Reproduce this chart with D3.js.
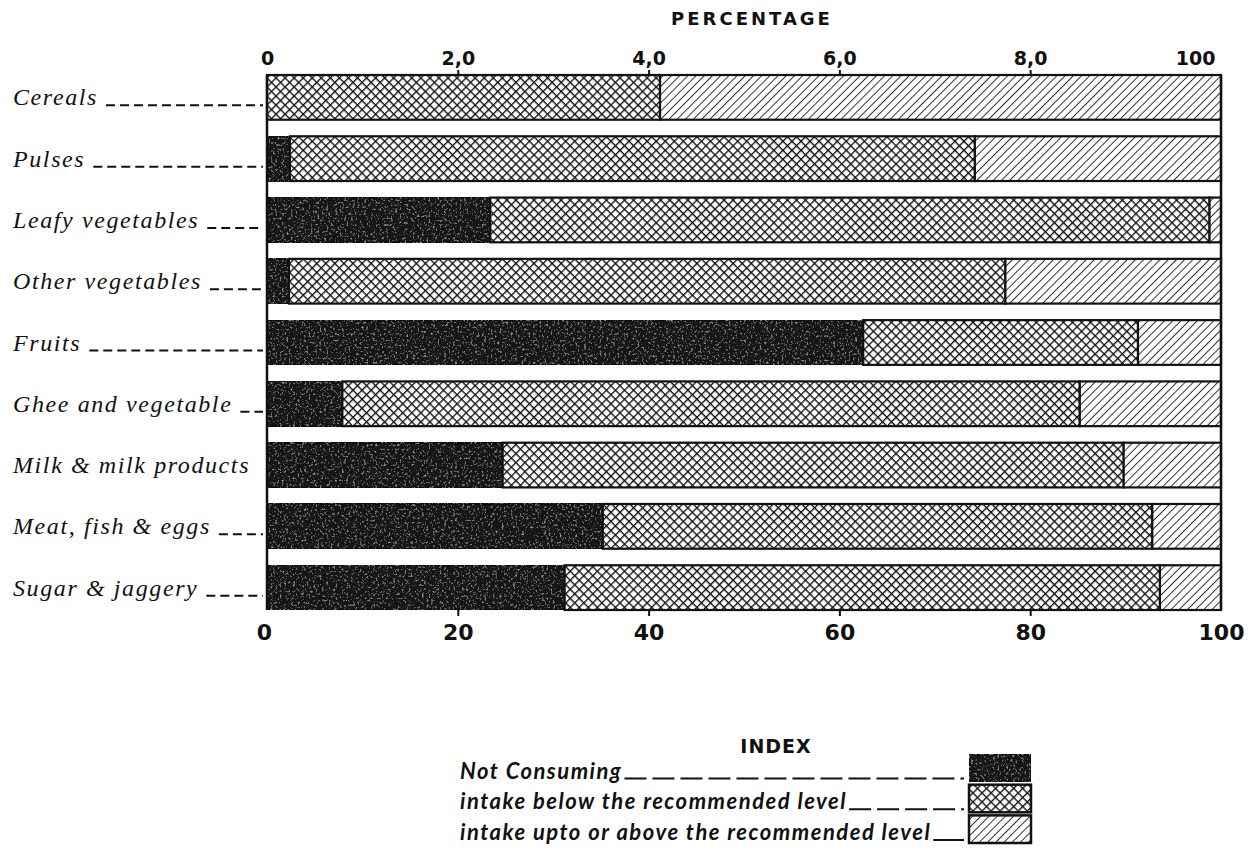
<!DOCTYPE html>
<html>
<head>
<meta charset="utf-8">
<script src="https://cdn.jsdelivr.net/npm/d3@7/dist/d3.min.js"></script>
<style>
  body { margin: 0; background: #fff; }
</style>
</head>
<body>
<script>
var categories = ["Cereals", "Pulses", "Leafy vegetables", "Other vegetables", "Fruits",
                  "Ghee and vegetable", "Milk & milk products", "Meat, fish & eggs", "Sugar & jaggery"];
var notConsuming = [0, 2.4, 23.4, 2.3, 62.5, 7.9, 24.7, 35.2, 31.2];
var belowLevel   = [41.2, 71.8, 75.4, 75.1, 28.8, 77.3, 65.1, 57.6, 62.4];
var aboveLevel   = [58.8, 25.8, 1.2, 22.6, 8.7, 14.8, 10.2, 7.2, 6.4];
var seriesKeys = ["not", "below", "above"];
var legendLabels = ["Not Consuming", "intake below the recommended level", "intake upto or above the recommended level"];
var topTickLabels = ["0", "2,0", "4,0", "6,0", "8,0", "100"];
var bottomTickLabels = ["0", "20", "40", "60", "80", "100"];
var tickValues = [0, 20, 40, 60, 80, 100];

var w = 1252;
var h = 854;
var mLeft = 267, mRight = 1221, mTop = 75, mBottom = 610;

var rows = categories.map(function(c, i){
  return {cat: c, not: notConsuming[i], below: belowLevel[i], above: aboveLevel[i]};
});

var svg = d3.select("body")
  .append("svg")
  .attr("width", w)
  .attr("height", h);

var defs = svg.append("defs");

// cross hatch (diamonds)
var cross = defs.append("pattern")
  .attr("id", "cross")
  .attr("patternUnits", "userSpaceOnUse")
  .attr("width", 6.4).attr("height", 6.4)
  .attr("patternTransform", "rotate(45)");
cross.append("rect").attr("width", 6.4).attr("height", 6.4).attr("fill", "#fff");
cross.append("path").attr("d", "M0,0 L0,6.4 M0,0 L6.4,0")
  .attr("stroke", "#111").attr("stroke-width", 2.7);

// single hatch "/"
var hatch = defs.append("pattern")
  .attr("id", "hatch")
  .attr("patternUnits", "userSpaceOnUse")
  .attr("width", 5.8).attr("height", 5.8)
  .attr("patternTransform", "rotate(45)");
hatch.append("rect").attr("width", 5.8).attr("height", 5.8).attr("fill", "#fff");
hatch.append("path").attr("d", "M0,0 L0,5.8")
  .attr("stroke", "#111").attr("stroke-width", 1.7);

// grainy dark fill
var grain = defs.append("filter").attr("id", "grain")
  .attr("x", 0).attr("y", 0).attr("width", "100%").attr("height", "100%");
grain.append("feTurbulence").attr("type", "fractalNoise")
  .attr("baseFrequency", 0.45).attr("numOctaves", 2).attr("seed", 4).attr("result", "n");
grain.append("feColorMatrix").attr("in", "n").attr("type", "matrix")
  .attr("values", "0 0 0 0 0.8  0 0 0 0 0.8  0 0 0 0 0.8  1.4 0 0 0 -0.8").attr("result", "speck");
grain.append("feComposite").attr("in", "speck").attr("in2", "SourceGraphic")
  .attr("operator", "in").attr("result", "s2");
var merge = grain.append("feMerge");
merge.append("feMergeNode").attr("in", "SourceGraphic");
merge.append("feMergeNode").attr("in", "s2");

var fills = {not: "#151515", below: "url(#cross)", above: "url(#hatch)"};

var xScale = d3.scaleLinear()
  .domain([0, 100])
  .range([mLeft, mRight]);

var yScale = d3.scaleBand()
  .domain(categories)
  .range([mTop, mBottom])
  .paddingInner(0.27)
  .paddingOuter(0);

var stack = d3.stack().keys(seriesKeys);
var stacked = stack(rows);

var layers = svg.append("g").selectAll("g")
  .data(stacked)
  .enter()
  .append("g");

layers.selectAll("rect")
  .data(function(d){ return d.map(function(p){ p.key = d.key; return p; }); })
  .enter()
  .append("rect")
  .filter(function(d){ return d[1] - d[0] > 0; })
  .attr("x", function(d){ return xScale(d[0]); })
  .attr("y", function(d){ return yScale(d.data.cat); })
  .attr("width", function(d){ return xScale(d[1]) - xScale(d[0]); })
  .attr("height", yScale.bandwidth())
  .attr("fill", function(d){ return fills[d.key]; })
  .attr("filter", function(d){ return d.key == "not" ? "url(#grain)" : null; })
  .attr("stroke", "#111")
  .attr("stroke-width", 2.2);

// frame sides
svg.append("line")
  .attr("x1", mLeft).attr("x2", mLeft).attr("y1", mTop).attr("y2", mBottom)
  .attr("stroke", "#111").attr("stroke-width", 2.5);
svg.append("line")
  .attr("x1", mRight).attr("x2", mRight).attr("y1", mTop).attr("y2", mBottom)
  .attr("stroke", "#111").attr("stroke-width", 2.5);

// axes
var topAxis = d3.axisTop(xScale)
  .tickValues(tickValues)
  .tickSize(5)
  .tickPadding(5)
  .tickFormat(function(d, i){ return topTickLabels[i]; });

var bottomAxis = d3.axisBottom(xScale)
  .tickValues(tickValues)
  .tickSize(6)
  .tickPadding(8)
  .tickFormat(function(d, i){ return bottomTickLabels[i]; });

var gTop = svg.append("g")
  .attr("transform", "translate(0," + mTop + ")")
  .call(topAxis);
gTop.select(".domain").remove();
gTop.selectAll(".tick line").attr("stroke", "#111").attr("stroke-width", 2)
  .filter(function(d){ return d == 0 || d == 100; }).remove();
gTop.selectAll(".tick text")
  .attr("font-family", "DejaVu Sans")
  .attr("font-weight", "bold")
  .attr("font-size", "19px")
  .attr("fill", "#111")
  .attr("text-anchor", function(d){ return d == 100 ? "end" : "middle"; })
  .attr("dx", function(d){ return d == 100 ? -6 : 0; });

var gBot = svg.append("g")
  .attr("transform", "translate(0," + mBottom + ")")
  .call(bottomAxis);
gBot.select(".domain").remove();
gBot.selectAll(".tick line").attr("stroke", "#111").attr("stroke-width", 2)
  .filter(function(d){ return d == 0 || d == 100; }).remove();
gBot.selectAll(".tick text")
  .attr("font-family", "DejaVu Sans")
  .attr("font-weight", "bold")
  .attr("font-size", "22px")
  .attr("fill", "#111")
  .attr("dx", function(d){ return d == 0 ? -3 : 0; });

svg.append("text")
  .attr("x", 752)
  .attr("y", 25)
  .attr("text-anchor", "middle")
  .attr("font-family", "DejaVu Sans")
  .attr("font-weight", "bold")
  .attr("font-size", "18px")
  .attr("letter-spacing", "3px")
  .attr("fill", "#111")
  .text("PERCENTAGE");

// category labels with leaders
var labels = svg.append("g").selectAll("g")
  .data(categories)
  .enter()
  .append("g");

labels.append("text")
  .attr("x", 13)
  .attr("y", function(d){ return yScale(d) + yScale.bandwidth() / 2 + 8; })
  .attr("font-family", "Liberation Serif")
  .attr("font-style", "italic")
  .attr("font-size", "24px")
  .attr("letter-spacing", "1.6px")
  .attr("fill", "#111")
  .text(function(d){ return d; });

labels.each(function(d){
  var g = d3.select(this);
  var tw = g.select("text").node().getComputedTextLength();
  var x0 = 13 + tw + 8;
  if (x0 < mLeft - 12) {
    var yy = yScale(d) + yScale.bandwidth() / 2 + 8;
    g.append("line")
      .attr("x1", x0).attr("x2", mLeft - 4)
      .attr("y1", yy).attr("y2", yy)
      .attr("stroke", "#111")
      .attr("stroke-width", 2)
      .attr("stroke-dasharray", "9,5");
  }
});

// legend
var legend = svg.append("g");
legend.append("text")
  .attr("x", 776).attr("y", 753)
  .attr("text-anchor", "middle")
  .attr("font-family", "DejaVu Sans")
  .attr("font-weight", "bold")
  .attr("font-size", "19px")
  .attr("letter-spacing", "1px")
  .attr("fill", "#111")
  .text("INDEX");

var lgRow = d3.scaleBand().domain(seriesKeys).range([754, 843]).paddingInner(0.1);

var items = legend.selectAll(".item")
  .data(seriesKeys)
  .enter()
  .append("g")
  .attr("class", "item");

items.append("rect")
  .attr("x", 969)
  .attr("y", function(d){ return lgRow(d); })
  .attr("width", 62)
  .attr("height", lgRow.bandwidth())
  .attr("fill", function(d){ return fills[d]; })
  .attr("filter", function(d){ return d == "not" ? "url(#grain)" : null; })
  .attr("stroke", "#111")
  .attr("stroke-width", 2.5);

items.append("text")
  .attr("x", 460)
  .attr("y", function(d){ return lgRow(d) + lgRow.bandwidth() - 3; })
  .attr("font-family", "Lato")
  .attr("font-weight", "bold")
  .attr("font-style", "italic")
  .attr("font-size", "22px")
  .attr("letter-spacing", "1.5px")
  .attr("fill", "#111")
  .text(function(d, i){ return legendLabels[i]; });

items.each(function(d){
  var g = d3.select(this);
  var tw = g.select("text").node().getComputedTextLength();
  var yy = lgRow(d) + lgRow.bandwidth() - 3;
  g.append("line")
    .attr("x1", 460 + tw + 2).attr("x2", 964)
    .attr("y1", yy).attr("y2", yy)
    .attr("stroke", "#111")
    .attr("stroke-width", 2)
    .attr("stroke-dasharray", d == "above" ? null : "22,6");
});
</script>
</body>
</html>
